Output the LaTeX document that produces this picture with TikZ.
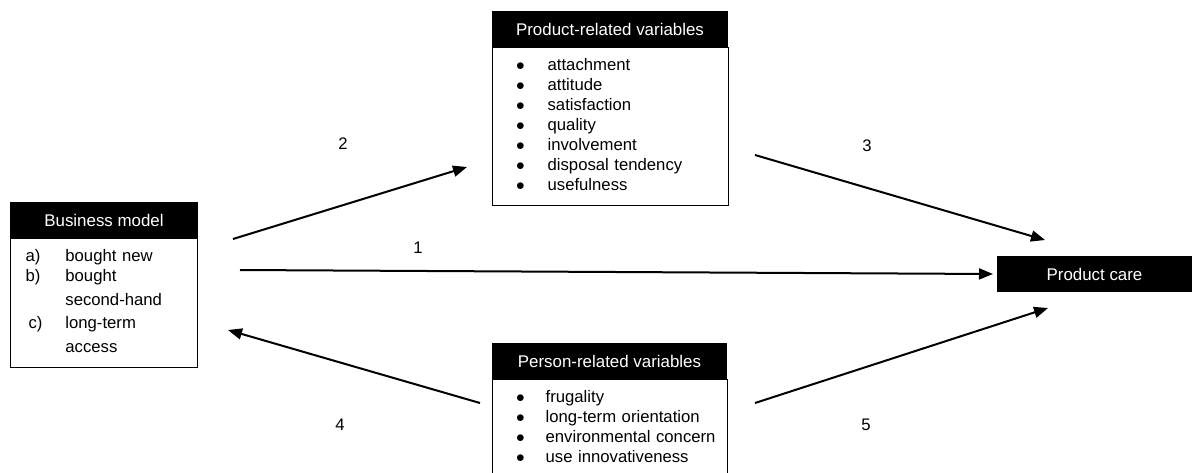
\documentclass[tikz,border=0pt]{standalone}
\usepackage{fontspec}
\setmainfont{Liberation Sans}
\usetikzlibrary{arrows.meta}

\tikzset{
  hdr/.style={fill=black, text=white, inner sep=0pt, minimum height=36pt, font=\fontsize{16.9}{20}\selectfont},
  lst/.style={draw, line width=0.8pt, anchor=north, inner xsep=24pt, inner ysep=9pt, align=left},
  lnk/.style={line width=2pt, -{Triangle[length=14pt,width=11pt]}},
  num/.style={inner sep=0pt}
}

\begin{document}
\begin{tikzpicture}[x=1pt,y=1pt,yscale=-1,font=\fontsize{16.7}{20}\selectfont]
	\useasboundingbox (0,0) rectangle (1192,472);
	\clip (0,0) rectangle (1192,472);
	
	% Business model
	\node [hdr, minimum width=188pt] (bmodel) at (104,220) {Business model};
	\node [lst, text width=157pt, inner xsep=15pt] (bmlist) at (bmodel.south) {%
		\begin{tabular}{@{}l@{\hspace{23pt}}l@{}}
			a) & bought new\\
			b) & bought\\[4pt]
			& second-hand\\[3pt]
			\hspace{3pt}c) & long-term\\[4pt]
			& access
		\end{tabular}};
	
	% Product-related variables
	\node [hdr, minimum width=236pt] (prodvar) at (610,29) {Product-related variables};
	\node [lst, text width=188pt] (prodlist) at (prodvar.south) {%
		\begin{tabular}{@{}l@{\hspace{23pt}}l@{}}
			$\bullet$ & attachment\\
			$\bullet$ & attitude\\
			$\bullet$ & satisfaction\\
			$\bullet$ & quality\\
			$\bullet$ & involvement\\
			$\bullet$ & disposal tendency\\
			$\bullet$ & usefulness
		\end{tabular}};
	
	% Person-related variables
	\node [hdr, minimum width=235pt] (persvar) at (609.5,361) {Person-related variables};
	\node [lst, text width=187pt] (perslist) at (persvar.south) {%
		\begin{tabular}{@{}l@{\hspace{21pt}}l@{}}
			$\bullet$ & frugality\\
			$\bullet$ & long-term orientation\\
			$\bullet$ & environmental concern\\
			$\bullet$ & use innovativeness
		\end{tabular}};
	
	% Product care
	\node [hdr, minimum width=195pt] (care) at (1094.5,274) {Product care};
	
	% arrow ends
	\coordinate (a1s) at (240,270);
	\coordinate (a1e) at (993,274);
	\coordinate (a2s) at (233,239);
	\coordinate (a2e) at (467,167);
	\coordinate (a3s) at (755,155);
	\coordinate (a3e) at (1045,240);
	\coordinate (a4s) at (480,403);
	\coordinate (a4e) at (228,330);
	\coordinate (a5s) at (755,403);
	\coordinate (a5e) at (1048,308);
	
	\draw [lnk] (a1s) -- (a1e);
	\draw [lnk] (a2s) -- (a2e);
	\draw [lnk] (a3s) -- (a3e);
	\draw [lnk] (a4s) -- (a4e);
	\draw [lnk] (a5s) -- (a5e);
	
	% Text Node
	\node [num] (n1) at (418,248) {1};
	\node [num] (n2) at (343,144) {2};
	\node [num] (n3) at (867,146) {3};
	\node [num] (n4) at (340,425) {4};
	\node [num] (n5) at (866,425) {5};
	
\end{tikzpicture}
\end{document}
